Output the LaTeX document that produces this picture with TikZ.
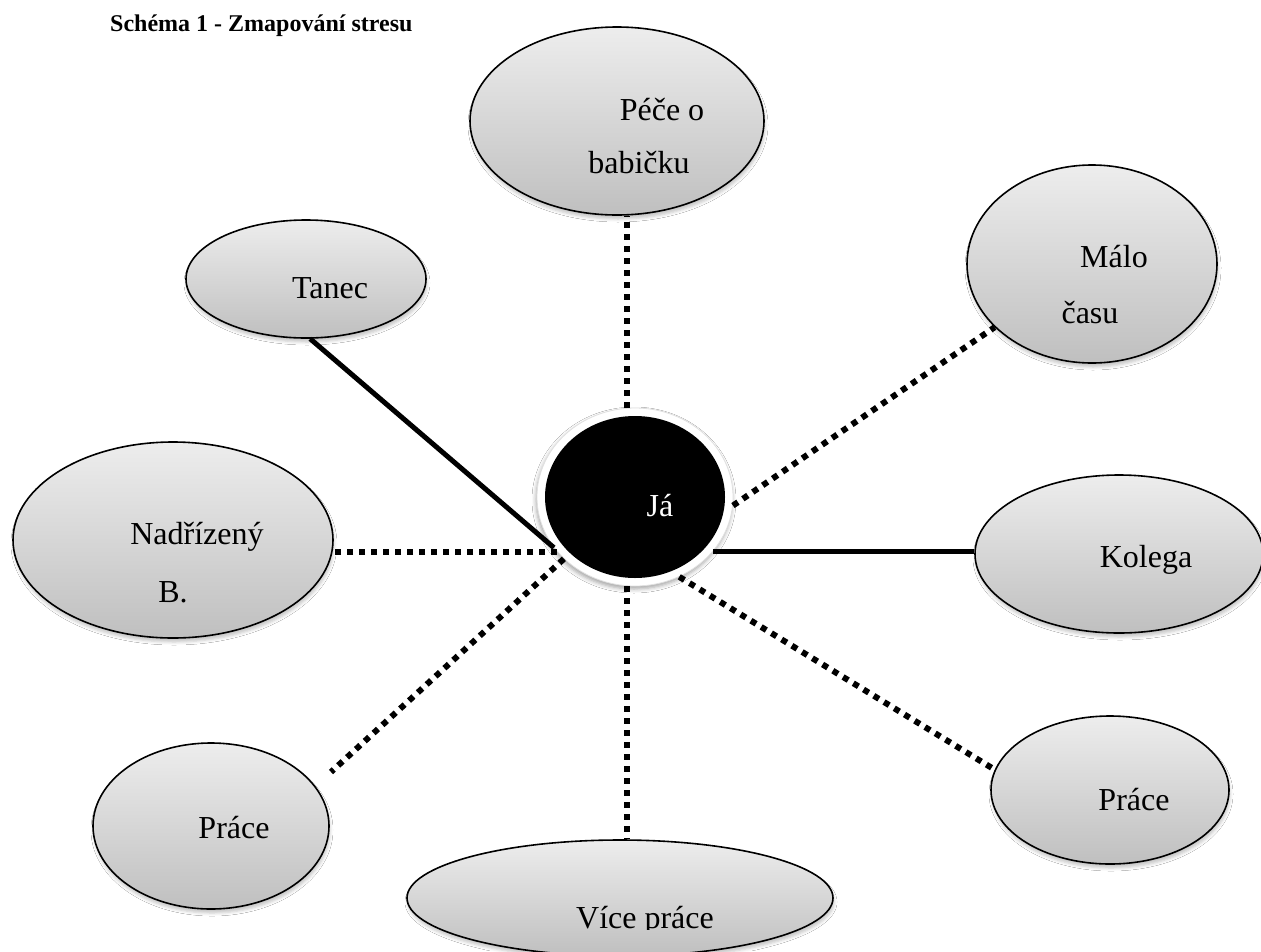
\documentclass[tikz,border=0pt]{standalone}
\usepackage{fontspec}
\setmainfont{Liberation Serif}
\usetikzlibrary{shapes.geometric,shadows.blur}
\begin{document}
\begin{tikzpicture}[x=1pt,y=1pt,
  bubble/.style={ellipse, draw=black, line width=1.6pt, inner sep=0pt,
    top color=black!7, bottom color=black!25,
    blur shadow={shadow xshift=1pt, shadow yshift=-4pt, shadow blur radius=3pt, shadow opacity=22}},
  lbl/.style={font=\fontsize{32}{38}\selectfont, inner sep=0pt},
  dotline/.style={line width=6pt, dash pattern=on 6pt off 6pt},
  solidline/.style={line width=5pt}]
\useasboundingbox (0,0) rectangle (1261,-951);
\clip (0,0) rectangle (1261,-951);
\fill[white] (0,0) rectangle (1261,-951);

\node[anchor=west, inner sep=0pt, font=\fontsize{24}{28}\selectfont\bfseries] (title) at (110,-26) {Schéma 1 - Zmapování stresu};

% ellipses
\node[bubble, minimum width=294pt, minimum height=188pt] (pece) at (617,-121) {};
\node[bubble, minimum width=240pt, minimum height=118pt] (tanec) at (306,-279) {};
\node[bubble, minimum width=250pt, minimum height=198pt] (malo) at (1092,-264) {};
\node[bubble, minimum width=320pt, minimum height=196pt] (nadr) at (173,-540) {};
\node[bubble, minimum width=288pt, minimum height=158pt] (kolega) at (1119,-554) {};
\node[bubble, minimum width=238pt, minimum height=148pt] (pracer) at (1110,-790) {};
\node[bubble, minimum width=236pt, minimum height=166pt] (pracel) at (211,-826) {};
\node[bubble, minimum width=426pt, minimum height=116pt] (vice) at (620,-898) {};

% centre
\node[ellipse, fill=white, draw=black!12, line width=0.8pt, inner sep=0pt,
  minimum width=196pt, minimum height=178pt,
  blur shadow={shadow xshift=-1pt, shadow yshift=-3pt, shadow blur radius=4pt, shadow opacity=35}] (ja) at (635,-497) {};
\node[ellipse, fill=black, inner sep=0pt, minimum width=180pt, minimum height=162pt] (jain) at (635,-497) {};

% labels
\node[lbl] (t1a) at (662,-110) {Péče o};
\node[lbl] (t1b) at (639,-163) {babičku};
\node[lbl] (t2) at (330,-288) {Tanec};
\node[lbl] (t3a) at (1114,-257) {Málo};
\node[lbl] (t3b) at (1090,-313) {času};
\node[lbl] (t4a) at (197,-537) {Nadřízený};
\node[lbl] (t4b) at (173,-592) {B.};
\node[lbl] (t5) at (1146,-560) {Kolega};
\node[lbl] (t6) at (1134,-800) {Práce};
\node[lbl] (t7) at (234,-828) {Práce};
\begin{scope}
  \clip (400,-840) rectangle (860,-929);
  \node[lbl, anchor=base] (t8) at (645,-928) {Více práce};
\end{scope}
\node[lbl, text=white] (t9) at (660,-506) {Já};

% connectors
\coordinate (plend) at (331,-772);
\draw[solidline] (tanec.-86) -- (ja.212);
\draw[dotline] (ja.95) -- (ja.95 |- pece.south);
\draw[dotline] (ja.-5) -- (malo.213);
\draw[solidline] (ja.-35) -- (ja.-35 -| kolega.west);
\draw[dotline] (ja.215) -- (ja.215 -| nadr.east);
\draw[dotline] (ja.221) -- (plend);
\draw[dotline] (ja.265) -- (ja.265 |- vice.north);
\draw[dotline] (ja.-61) -- (pracer.170);
\end{tikzpicture}
\end{document}
